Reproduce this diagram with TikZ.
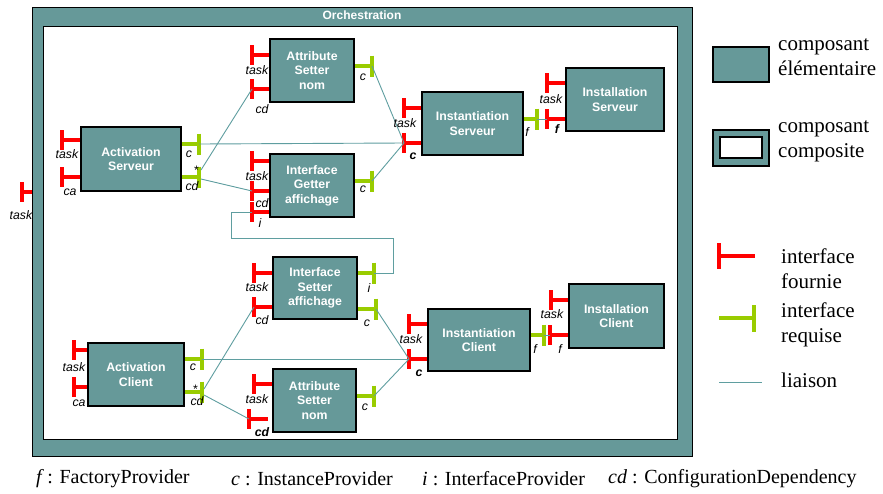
\documentclass[tikz,border=0pt]{standalone}
\usepackage{fontspec}
\setmainfont{Liberation Serif}
\setsansfont{Liberation Sans}

\definecolor{compfill}{RGB}{102,153,153}
\definecolor{provred}{RGB}{255,0,0}
\definecolor{reqgreen}{RGB}{153,204,0}
\definecolor{linkcol}{RGB}{95,158,160}

\tikzset{
  comp/.style={draw=black, line width=1.2pt, fill=compfill, text=white,
    font=\sffamily\bfseries\fontsize{12.3}{14.5}\selectfont, align=center, inner sep=0pt},
  prov/.style={draw=provred, line width=3.3pt},
  req/.style={draw=reqgreen, line width=3.3pt},
  link/.style={draw=linkcol, line width=0.9pt},
  plab/.style={font=\sffamily\itshape\fontsize{12.3}{13}\selectfont, inner sep=0pt},
  plabb/.style={font=\sffamily\bfseries\itshape\fontsize{12.3}{13}\selectfont, inner sep=0pt},
  legtext/.style={font=\fontsize{21}{25}\selectfont, align=left, anchor=west, inner sep=0pt},
  captext/.style={font=\fontsize{20}{24}\selectfont, anchor=west, inner sep=0pt},
}

% provided interface: bar at x=#2, stem from the bar to the box edge #4
\newcommand\provport[4]{%
  \draw[prov] (#2,#3) -- (#4,#3);
  \draw[prov] (#2,#3-10) -- (#2,#3+10);
  \coordinate (#1) at (#2,#3);}
% required interface: stem from the box edge #4 to the bar at x=#2
\newcommand\reqport[4]{%
  \draw[req] (#4,#3) -- (#2,#3);
  \draw[req] (#2,#3-10.5) -- (#2,#3+10.5);
  \coordinate (#1) at (#2,#3);}

\begin{document}
\begin{tikzpicture}[x=1pt, y=-1pt]
\useasboundingbox (0,0) rectangle (883,493);

% composite component Orchestration
\node[draw=black, line width=1pt, fill=compfill, minimum width=660pt, minimum height=449pt, inner sep=0pt] (orch) at (362,231.5) {};
\node[draw=black, line width=1pt, fill=white, minimum width=634pt, minimum height=413pt, inner sep=0pt] (orchIn) at (360,232.5) {};
\node[font=\sffamily\bfseries\fontsize{12}{14}\selectfont, text=white, inner sep=0pt] (orchTitle) at (362,15) {Orchestration};

% binding anchors near the cd interfaces
\coordinate (asCDa) at (201,170);
\coordinate (asCDb) at (201,179);
\coordinate (acCDa) at (204,389);
\coordinate (acCDb) at (204,395);
\coordinate (iloopL) at (231,238);
\coordinate (iloopR) at (393,238);

% ports
\provport{asT}{62}{140}{81}
\provport{asCA}{62}{177}{81}
\provport{atAT}{252}{55}{270}
\provport{atACD}{252}{89}{270}
\provport{igT}{252}{161}{270}
\provport{igCD}{252}{191}{270}
\provport{igI}{252}{212}{270}
\provport{isT}{404}{108}{422}
\provport{isC}{404}{143}{422}
\provport{ilsT}{547}{83}{566}
\provport{ilsF}{547}{119}{566}
\provport{acT}{74}{350}{88}
\provport{acCA}{74}{387}{88}
\provport{isaT}{254}{273}{273}
\provport{isaCD}{254}{307}{273}
\provport{atBT}{254}{384}{273}
\provport{atBCD}{249}{419}{268}
\provport{icT}{409}{324}{428}
\provport{icC}{409}{359}{428}
\provport{ilcT}{551}{300}{569}
\provport{ilcF}{550}{335}{569}
\provport{orchT}{22}{192}{32}

\reqport{asC}{199}{144}{181}
\reqport{asCD}{199}{177}{181}
\reqport{atAC}{372}{66}{354}
\reqport{igC}{372}{181}{354}
\reqport{isF}{537}{119}{523}
\reqport{acC}{202}{359}{184}
\reqport{acCD}{202}{392}{184}
\reqport{isaI}{374}{273}{357}
\reqport{isaC}{376}{309}{357}
\reqport{atBC}{374}{396}{356}
\reqport{icF}{544}{335}{530}

% bindings
\draw[link] (asC) -- (isC);
\draw[link] (asCDa) -- (atACD);
\draw[link] (asCDb) -- (igCD);
\draw[link] (atAC) -- (isC);
\draw[link] (igC) -- (isC);
\draw[link] (igI) -| (iloopL) -- (iloopR) |- (isaI);
\draw[link] (isF) -- (ilsF);
\draw[link] (acC) -- (icC);
\draw[link] (acCDa) -- (isaCD);
\draw[link] (acCDb) -- (atBCD);
\draw[link] (isaC) -- (icC);
\draw[link] (atBC) -- (icC);
\draw[link] (icF) -- (ilcF);

% primitive components
\node[comp, minimum width=100pt, minimum height=64pt] (as) at (131,159) {Activation\\Serveur};
\node[comp, minimum width=84pt, minimum height=63pt] (atA) at (312,70.5) {Attribute\\Setter\\nom};
\node[comp, minimum width=84pt, minimum height=63pt] (ig) at (312,185.5) {Interface\\Getter\\affichage};
\node[comp, minimum width=101pt, minimum height=63pt] (is) at (472.5,123.5) {Instantiation\\Serveur};
\node[comp, minimum width=98pt, minimum height=63pt] (ils) at (615,99.5) {Installation\\Serveur};
\node[comp, minimum width=96pt, minimum height=63pt] (ac) at (136,374.5) {Activation\\Client};
\node[comp, minimum width=84pt, minimum height=62pt] (isa) at (315,288) {Interface\\Setter\\affichage};
\node[comp, minimum width=83pt, minimum height=63pt] (atB) at (314.5,400.5) {Attribute\\Setter\\nom};
\node[comp, minimum width=102pt, minimum height=62pt] (ic) at (479,340) {Instantiation\\Client};
\node[comp, minimum width=95pt, minimum height=64pt] (ilc) at (616.5,316) {Installation\\Client};

% port labels
\node[plab] (l1) at (67,154) {task};
\node[plab] (l2) at (70,192) {ca};
\node[plab] (l3) at (189,154) {c};
\node[plab] (l4) at (196,170) {*};
\node[plab] (l5) at (192,186) {cd};
\node[plab] (l6) at (257,70) {task};
\node[plab] (l7) at (262,109) {cd};
\node[plab] (l8) at (363,77) {c};
\node[plab] (l9) at (257,176) {task};
\node[plab] (l10) at (262,203) {cd};
\node[plab] (l11) at (260,223) {i};
\node[plab] (l12) at (363,189) {c};
\node[plab] (l13) at (405,123) {task};
\node[plabb] (l14) at (413,156) {c};
\node[plab] (l15) at (527,132) {f};
\node[plab] (l16) at (551,99) {task};
\node[plabb] (l17) at (557,129) {f};
\node[plab] (l18) at (74,367) {task};
\node[plab] (l19) at (79,403) {ca};
\node[plab] (l20) at (193,367) {c};
\node[plab] (l21) at (195,389) {*};
\node[plab] (l22) at (197,401) {cd};
\node[plab] (l23) at (257,287) {task};
\node[plab] (l24) at (262,320) {cd};
\node[plab] (l25) at (369,288) {i};
\node[plab] (l26) at (367,323) {c};
\node[plab] (l27) at (257,399) {task};
\node[plabb] (l28) at (262,432) {cd};
\node[plab] (l29) at (365,407) {c};
\node[plab] (l30) at (411,339) {task};
\node[plabb] (l31) at (419,373) {c};
\node[plab] (l32) at (535,349) {f};
\node[plab] (l33) at (552,314) {task};
\node[plab] (l34) at (560,349) {f};
\node[plab] (l35) at (21,215) {task};

% legend
\node[comp, minimum width=56pt, minimum height=35pt] (legElem) at (741,64.5) {};
\node[legtext] (legElemT) at (778,57.5) {composant\\élémentaire};
\node[draw=black, line width=1.2pt, fill=compfill, minimum width=56pt, minimum height=36pt, inner sep=0pt] (legComp) at (741,148) {};
\node[draw=black, line width=1.2pt, fill=white, minimum width=42pt, minimum height=21pt, inner sep=0pt] (legCompIn) at (741,147.5) {};
\node[legtext] (legCompT) at (778,141.5) {composant\\composite};
\coordinate (legProvA) at (719,256);
\coordinate (legProvB) at (755,256);
\draw[prov] (legProvA) -- (legProvB);
\draw[prov] (719,243) -- (719,269);
\node[legtext] (legProvT) at (781,268.5) {interface\\fournie};
\coordinate (legReqA) at (719,318);
\coordinate (legReqB) at (754,318);
\draw[req] (legReqA) -- (legReqB);
\draw[req] (754,305) -- (754,332);
\node[legtext] (legReqT) at (781,324.5) {interface\\requise};
\coordinate (legLinkA) at (719,382);
\coordinate (legLinkB) at (762,382);
\draw[link] (legLinkA) -- (legLinkB);
\node[legtext] (legLinkT) at (781,380) {liaison};

% key to the interface names
\node[captext] (capF) at (36,479) {\textit{f}\,: FactoryProvider};
\node[captext] (capC) at (231,479) {\textit{c} : InstanceProvider};
\node[captext] (capI) at (422,479) {\textit{i} : InterfaceProvider};
\node[captext] (capCD) at (608,479) {\textit{cd} : ConfigurationDependency};
\end{tikzpicture}
\end{document}
